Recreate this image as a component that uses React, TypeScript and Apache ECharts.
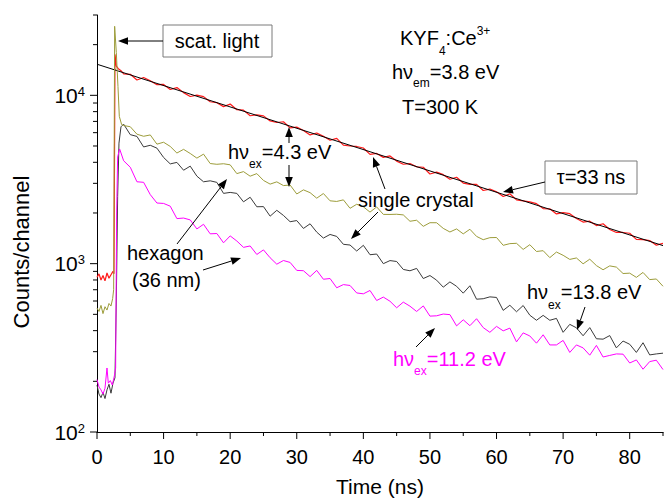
import React, { useEffect, useRef } from 'react';
import * as echarts from 'echarts';

const FONT = '"Liberation Sans", Arial, Helvetica, sans-serif';

// channel times (ns) for the decay part, 4..85
const decayTime = Array.from({ length: 82 }, (_, i) => 4 + i);

// pre-peak / rising parts [time, counts]
const redHead = [[0, 830], [0.3, 870], [0.6, 800], [0.9, 850], [1.2, 790], [1.5, 880], [1.8, 820], [2.1, 860], [2.4, 900], [2.55, 870], [2.7, 17500], [2.9, 14900], [3.2, 14400], [3.6, 14000]];
const oliveHead = [[0, 545], [0.3, 520], [0.6, 565], [0.9, 505], [1.2, 555], [1.5, 530], [1.8, 580], [2.1, 560], [2.35, 620], [2.5, 700], [2.65, 25700], [2.9, 18000], [3.15, 11300], [3.35, 7500], [3.7, 6700]];
const blackHead = [[0, 190], [0.3, 168], [0.6, 160], [0.9, 172], [1.2, 158], [1.5, 178], [1.8, 192], [2.1, 170], [2.4, 195], [2.7, 210], [2.9, 600], [3.1, 2500], [3.3, 5200], [3.6, 6500]];
const magentaHead = [[0, 205], [0.3, 185], [0.6, 178], [0.9, 168], [1.2, 182], [1.5, 240], [1.7, 195], [2.0, 202], [2.3, 190], [2.6, 215], [2.8, 240], [2.95, 2000], [3.1, 4300], [3.4, 4800]];

// decay parts, t = 4..85 ns
const redDecay = [
  13392, 13326, 12326, 12769, 12207, 11572, 11603, 10824, 11115, 10376,
  9835, 10028, 9820, 9161, 9040, 8569, 8871, 8214, 8169, 7560,
  7651, 7547, 7045, 6894, 6966, 6403, 6472, 6180, 5818, 5970,
  5705, 5412, 5554, 5065, 5000, 4968, 4864, 4462, 4516, 4280,
  4365, 4067, 3894, 3932, 3760, 3738, 3408, 3495, 3377, 3172,
  3261, 3011, 2956, 2959, 2720, 2774, 2671, 2508, 2600, 2391,
  2360, 2327, 2273, 2125, 2117, 1975, 2012, 1981, 1855, 1767,
  1788, 1683, 1726, 1597, 1532, 1532, 1516, 1394, 1390, 1372,
  1288, 1321,
];
const oliveDecay = [
  6618, 6506, 5876, 5711, 5816, 5128, 5263, 4970, 4541, 4776,
  4514, 4236, 4473, 3933, 3893, 3922, 3864, 3427, 3522, 3309,
  3427, 3122, 2969, 3062, 2910, 2932, 2594, 2744, 2641, 2449,
  2610, 2362, 2342, 2393, 2132, 2253, 2176, 2024, 2173, 1962,
  1960, 1966, 1948, 1786, 1811, 1666, 1751, 1750, 1620, 1542,
  1608, 1503, 1601, 1452, 1388, 1427, 1430, 1285, 1315, 1321,
  1215, 1296, 1181, 1194, 1086, 1172, 1121, 1060, 1081, 998,
  1063, 974, 920, 970, 954, 874, 878, 829, 887, 804,
  811, 734,
];
const blackDecay = [
  6740, 5840, 5700, 4935, 5050, 4855, 4275, 3915, 3995, 3590,
  3795, 3310, 3065, 3105, 3040, 2615, 2650, 2615, 2330, 2480,
  2178, 2182, 1915, 2074, 1934, 1775, 1803, 1619, 1725, 1539,
  1419, 1491, 1452, 1303, 1290, 1189, 1285, 1130, 1141, 1000,
  1043, 1030, 924, 907, 937, 816, 850, 798, 725, 779,
  734, 668, 739, 615, 619, 635, 630, 528, 566, 518,
  564, 494, 461, 493, 461, 473, 391, 436, 416, 373,
  417, 358, 356, 374, 316, 347, 332, 297, 339, 287,
  291, 294,
];
const magentaDecay = [
  4087, 3739, 3065, 3042, 2571, 2292, 2279, 2195, 1852, 1866,
  1819, 1608, 1713, 1504, 1510, 1330, 1462, 1363, 1250, 1274,
  1134, 1207, 1084, 993, 1044, 1017, 912, 908, 838, 912,
  808, 816, 719, 751, 742, 670, 662, 693, 604, 633,
  598, 547, 591, 559, 520, 561, 488, 490, 502, 498,
  427, 464, 428, 471, 417, 391, 424, 399, 414, 343,
  388, 372, 337, 378, 329, 329, 350, 297, 329, 316,
  286, 327, 279, 285, 291, 290, 257, 268, 236, 262,
  267, 235,
];

// single-exponential fit (tau = 33 ns)
const fitLine = [[0, 15300], [85, 1280]];

// axis ticks
const xMajorTicks = [0, 10, 20, 30, 40, 50, 60, 70, 80];
const xMinorTicks = [5, 15, 25, 35, 45, 55, 65, 75, 85];
const yMajorTicks = [100, 1000, 10000];
const yMinorTicks = [200, 300, 400, 500, 600, 700, 800, 900, 2000, 3000, 4000, 5000, 6000, 7000, 8000, 9000, 20000, 30000];

const withDecay = (head: number[][], decay: number[]) => [...head, ...decayTime.map((t, i) => [t, decay[i]])];

function arrow(x1: number, y1: number, x2: number, y2: number, color = '#000') {
  const ang = Math.atan2(y2 - y1, x2 - x1);
  const L = 10, W = 3.8;
  const bx = x2 - L * Math.cos(ang), by = y2 - L * Math.sin(ang);
  const px = -Math.sin(ang) * W, py = Math.cos(ang) * W;
  return [
    { type: 'line', z: 100, silent: true, shape: { x1, y1, x2: bx, y2: by }, style: { stroke: color, lineWidth: 1 } },
    { type: 'polygon', z: 100, silent: true, shape: { points: [[x2, y2], [bx + px, by + py], [bx - px, by - py]] }, style: { fill: color } },
  ];
}

function txt(x: number, y: number, text: string, opts: any = {}) {
  return {
    type: 'text', z: 101, silent: true, x, y,
    rotation: opts.rotation || 0,
    style: {
      text, fontSize: opts.fontSize || 20, fontFamily: FONT, fill: opts.fill || '#000',
      align: opts.align || 'left', verticalAlign: 'middle',
    },
  };
}

let measureCtx: CanvasRenderingContext2D | null = null;
function textWidth(t: string, size: number) {
  if (!measureCtx) measureCtx = document.createElement('canvas').getContext('2d');
  measureCtx!.font = `${size}px ${FONT}`;
  return measureCtx!.measureText(t).width;
}

// parts: [text, kind] kind: 'n' normal, 'b' subscript, 'p' superscript
function scripted(x: number, y: number, parts: [string, string][], fill = '#000', subDy = 12, supDy = -7) {
  const els: any[] = [];
  let cx = x;
  for (const [t, k] of parts) {
    const size = k === 'n' ? 20 : 12;
    const dy = k === 'b' ? subDy : k === 'p' ? supDy : 0;
    els.push(txt(cx, y + dy, t, { fontSize: size, fill }));
    cx += textWidth(t, size);
  }
  return els;
}

function box(x: number, y: number, w: number, h: number) {
  return { type: 'rect', z: 99, silent: true, shape: { x, y, width: w, height: h }, style: { fill: '#fff', stroke: '#7a7a7a', lineWidth: 1 } };
}

export default function App() {
  const ref = useRef<HTMLDivElement>(null);
  useEffect(() => {
    document.body.style.margin = '0';
    const chart = echarts.init(ref.current!, undefined, { renderer: 'svg' });

    const tickData = [
      ...xMajorTicks.map((v) => [v, 100, 0]),
      ...xMinorTicks.map((v) => [v, 100, 1]),
      ...yMajorTicks.map((v) => [0, v, 2]),
      ...yMinorTicks.map((v) => [0, v, 3]),
    ];

    const lineBase = { type: 'line', showSymbol: false, symbol: 'none', silent: true, animation: false };

    chart.setOption({
      animation: false,
      backgroundColor: '#fff',
      grid: { left: 97, top: 15, right: 2, bottom: 67 },
      xAxis: {
        type: 'value', min: 0, max: 85, interval: 10,
        axisLine: { onZero: false, lineStyle: { color: '#000', width: 1 } },
        axisTick: { show: false }, splitLine: { show: false },
        axisLabel: { fontSize: 20, fontFamily: FONT, color: '#000', margin: 15, showMaxLabel: false },
      },
      yAxis: {
        type: 'log', logBase: 10, min: 100, max: 30000,
        axisLine: { show: true, onZero: false, lineStyle: { color: '#000', width: 1 } },
        axisTick: { show: false }, splitLine: { show: false },
        axisLabel: {
          margin: 12, fontFamily: FONT, color: '#000',
          formatter: (v: number) => {
            const e = Math.log10(v);
            if (Math.abs(e - Math.round(e)) > 1e-6) return '';
            return `{b|10}{s|${Math.round(e)}}`;
          },
          rich: {
            b: { fontSize: 21, fontFamily: FONT, color: '#000', lineHeight: 21 },
            s: { fontSize: 13, fontFamily: FONT, color: '#000', lineHeight: 13, verticalAlign: 'top' },
          },
        },
      },
      series: [
        { ...lineBase, name: 'red', data: withDecay(redHead, redDecay), lineStyle: { color: '#ff1a1a', width: 1.2 }, z: 2 },
        { ...lineBase, name: 'fit', data: fitLine, lineStyle: { color: '#000', width: 1 }, z: 3 },
        { ...lineBase, name: 'black', data: withDecay(blackHead, blackDecay), lineStyle: { color: '#3a3a3a', width: 1 }, z: 4 },
        { ...lineBase, name: 'magenta', data: withDecay(magentaHead, magentaDecay), lineStyle: { color: '#ff00ff', width: 1 }, z: 5 },
        { ...lineBase, name: 'olive', data: withDecay(oliveHead, oliveDecay), lineStyle: { color: '#9c9c3a', width: 1 }, z: 6 },
        {
          type: 'custom', name: 'ticks', silent: true, clip: false, z: 10,
          data: tickData,
          renderItem: (params: any, api: any) => {
            const x = api.value(0), y = api.value(1), kind = api.value(2);
            const p = api.coord([x, y]);
            const len = kind === 0 || kind === 2 ? 7 : 4;
            const shape = kind < 2
              ? { x1: p[0], y1: p[1], x2: p[0], y2: p[1] + len }
              : { x1: p[0] - len, y1: p[1], x2: p[0], y2: p[1] };
            return { type: 'line', shape, style: { stroke: '#000', lineWidth: 1 } };
          },
        },
      ],
      graphic: [
        // axis titles
        txt(380, 486, 'Time (ns)', { fontSize: 21, align: 'center' }),
        txt(21, 252, 'Counts/channel', { fontSize: 22, align: 'center', rotation: Math.PI / 2 }),
        // scattered light
        box(163, 25, 109, 32),
        txt(217, 41, 'scat. light', { align: 'center' }),
        ...arrow(163, 41, 118, 41),
        // sample info
        ...scripted(400, 38, [['KYF', 'n'], ['4', 'b'], [':Ce', 'n'], ['3+', 'p']], '#000', 13, -7),
        ...scripted(392, 72, [['hν', 'n'], ['em', 'b'], ['=3.8 eV', 'n']], '#000', 11),
        txt(402, 107, 'T=300 K'),
        // 4.3 eV
        ...scripted(228, 152, [['hν', 'n'], ['ex', 'b'], ['=4.3 eV', 'n']], '#000', 12),
        ...arrow(289, 143, 289, 127),
        ...arrow(289, 165, 289, 187),
        // single crystal
        txt(358, 200, 'single crystal'),
        ...arrow(385, 189, 373, 157),
        ...arrow(378, 212, 351, 239),
        // tau
        box(545, 161, 92, 33),
        txt(591, 177, 'τ=33 ns', { align: 'center' }),
        ...arrow(545, 182, 503, 192),
        // hexagon
        txt(127, 253, 'hexagon'),
        txt(132, 280, '(36 nm)'),
        ...arrow(177, 244, 227, 179),
        ...arrow(203, 270, 241, 258),
        // 13.8 eV
        ...scripted(527, 292, [['hν', 'n'], ['ex', 'b'], ['=13.8 eV', 'n']], '#000', 13),
        ...arrow(585, 307, 577, 330),
        // 11.2 eV
        ...scripted(393, 359, [['hν', 'n'], ['ex', 'b'], ['=11.2 eV', 'n']], '#ff00ff', 12),
        ...arrow(416, 347, 435, 328),
      ],
    });
    return () => chart.dispose();
  }, []);
  return <div ref={ref} style={{ width: 665, height: 499 }} />;
}
